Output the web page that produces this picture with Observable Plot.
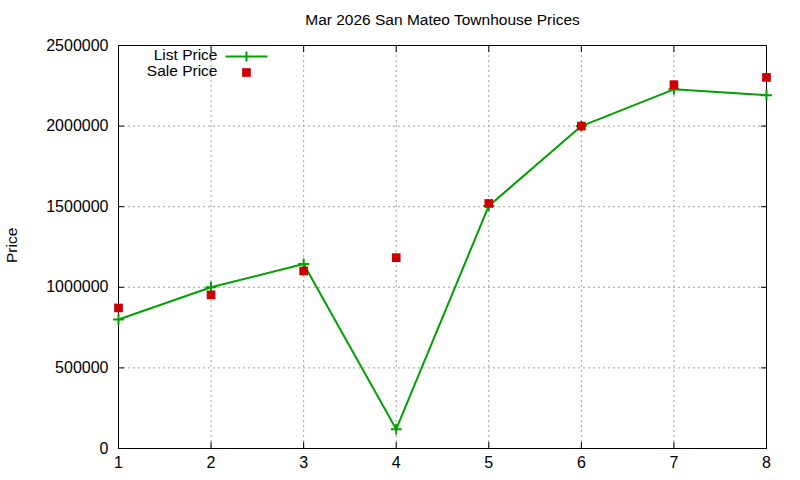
<!DOCTYPE html>
<html>
<head>
<meta charset="utf-8">
<script src="https://cdn.jsdelivr.net/npm/d3@7"></script>
<script src="https://cdn.jsdelivr.net/npm/@observablehq/plot@0.6"></script>
<style>
  html, body { margin: 0; padding: 0; background: #fff; }
  #chart svg { display: block; }
</style>
</head>
<body>
<div id="chart"></div>
<script>
const title = "Mar 2026 San Mateo Townhouse Prices";
const yLabel = "Price";
const seriesNames = ["List Price", "Sale Price"];
const xValues = [1, 2, 3, 4, 5, 6, 7, 8];
const listPrice = [800000, 1000000, 1145000, 120000, 1505000, 2000000, 2228000, 2192000];
const salePrice = [872000, 953000, 1101000, 1184000, 1520000, 2000000, 2257000, 2302000];
const xTicks = [1, 2, 3, 4, 5, 6, 7, 8];
const yTicks = [0, 500000, 1000000, 1500000, 2000000, 2500000];

const listData = xValues.map((x, i) => ({x, y: listPrice[i]}));
const saleData = xValues.map((x, i) => ({x, y: salePrice[i]}));

const green = "#00a000";
const red = "#cc0000";
const font = "'Liberation Sans', Arial, sans-serif";

// legend sample symbol: short line with a plus
const lineSym = {
  draw(ctx) {
    ctx.moveTo(-21, 0); ctx.lineTo(21, 0);
    ctx.moveTo(0, -5); ctx.lineTo(0, 5);
  }
};

const chart = Plot.plot({
  width: 800,
  height: 480,
  marginLeft: 118,
  marginRight: 34,
  marginTop: 45,
  marginBottom: 32,
  style: {fontFamily: font, fontSize: "16px", color: "#000", background: "#fff"},
  x: {domain: [1, 8], ticks: xTicks},
  y: {domain: [0, 2500000], ticks: yTicks},
  marks: [
    Plot.gridX(xTicks, {stroke: "#a0a0a0", strokeOpacity: 1, strokeDasharray: "2,3"}),
    Plot.gridY(yTicks, {stroke: "#a0a0a0", strokeOpacity: 1, strokeDasharray: "2,3"}),
    Plot.axisX(xTicks, {anchor: "bottom", tickSize: 0, tickPadding: 8, tickFormat: d => String(d), label: null, fontSize: 16}),
    Plot.axisX(xTicks, {anchor: "bottom", tickSize: -6, text: null, label: null}),
    Plot.axisX(xTicks, {anchor: "top", tickSize: -6, text: null, label: null}),
    Plot.axisY(yTicks, {anchor: "left", tickSize: 0, tickPadding: 10, tickFormat: d => String(d), label: null, fontSize: 16}),
    Plot.axisY(yTicks, {anchor: "left", tickSize: -6, text: null, label: null}),
    Plot.axisY(yTicks, {anchor: "right", tickSize: -6, text: null, label: null}),
    Plot.frame({stroke: "#000", strokeWidth: 1}),
    Plot.line(listData, {x: "x", y: "y", stroke: green, strokeWidth: 2}),
    Plot.dot(listData, {x: "x", y: "y", symbol: "plus", stroke: green, strokeWidth: 2, r: 3.6}),
    Plot.dot(saleData, {x: "x", y: "y", symbol: "square", fill: red, stroke: null, r: 4.9}),
    // title
    Plot.text([title], {frameAnchor: "top", lineAnchor: "middle", dy: -25, fontSize: 15.5, fill: "#000"}),
    // y label
    Plot.text([yLabel], {frameAnchor: "left", lineAnchor: "middle", dx: -106, dy: 16, rotate: -90, fontSize: 15.5, fill: "#000"}),
    // legend
    Plot.text([seriesNames[0]], {frameAnchor: "top-left", lineAnchor: "middle", dx: 99, dy: 10, textAnchor: "end", fontSize: 15.5, fill: "#000"}),
    Plot.text([seriesNames[1]], {frameAnchor: "top-left", lineAnchor: "middle", dx: 99, dy: 26, textAnchor: "end", fontSize: 15.5, fill: "#000"}),
    Plot.dot([seriesNames[0]], {frameAnchor: "top-left", dx: 128, dy: 11, symbol: lineSym, stroke: green, strokeWidth: 2, r: 4}),
    Plot.dot([seriesNames[1]], {frameAnchor: "top-left", dx: 128, dy: 27, symbol: "square", fill: red, stroke: null, r: 4.9})
  ]
});
document.getElementById("chart").appendChild(chart);
</script>
</body>
</html>
